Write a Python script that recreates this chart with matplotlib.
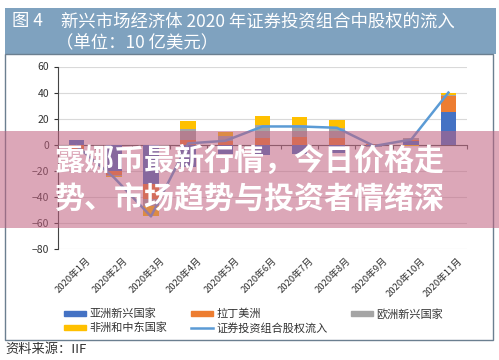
import matplotlib.pyplot as plt
import numpy as np
from matplotlib.patches import Rectangle
from matplotlib.lines import Line2D
from matplotlib.transforms import blended_transform_factory

plt.rcParams["font.family"] = ["Noto Sans CJK SC", "DejaVu Sans"]

months = ["2020年1月", "2020年2月", "2020年3月", "2020年4月", "2020年5月", "2020年6月",
          "2020年7月", "2020年8月", "2020年9月", "2020年10月", "2020年11月"]
asia = [4, -20, -30, -17, -7, -8, -7, -6, -1, 3, 25]
latam = [-3, -3, -12, 4, 3, 5, 6, 5, 0.5, 1, 12]
europe = [-1, -1, -5, 8, 4, 10, 9, 8, -0.5, 1, 1]
africa = [-1, -1, -8, 6, 3, 7, 6, 6, 0, -1, 2]
total = [-1, -25, -55, 1, 3, 14, 14, 13, -1, 4, 40]

series = [("亚洲新兴国家", asia, "#4472c4"),
          ("拉丁美洲", latam, "#ed7d31"),
          ("欧洲新兴国家", europe, "#a5a5a5"),
          ("非洲和中东国家", africa, "#ffc000")]
LINE_C = "#5b9bd5"

fig = plt.figure(figsize=(4.99, 3.60), dpi=100)
W, H = 499, 360


def px(x, y, w, h):
    return (x / W, 1 - (y + h) / H, w / W, h / H)


# header and chart frame
fig.patches.append(Rectangle((5 / W, 1 - 54 / H), 491 / W, 46 / H, transform=fig.transFigure,
                             facecolor="#7fa2bf", edgecolor="none"))
fig.patches.append(Rectangle((5 / W, 1 - 340 / H), 488 / W, 286 / H, transform=fig.transFigure,
                             facecolor="none", edgecolor="#6b7f90", linewidth=1.0))
fig.text(12 / W, 1 - 21 / H, "图 4", color="white", fontsize=12.5, va="center")
fig.text(61 / W, 1 - 21 / H, "新兴市场经济体 2020 年证券投资组合中股权的流入", color="white",
         fontsize=12.5, va="center")
fig.text(56 / W, 1 - 43 / H, "（单位：10 亿美元）", color="white", fontsize=12.5, va="center")
fig.text(5 / W, 1 - 349 / H, "资料来源：IIF", color="#333333", fontsize=9.5, va="center")

ax = fig.add_axes(px(58, 66.5, 409, 182.5))
x = np.arange(len(months))
pos = np.zeros(len(months))
neg = np.zeros(len(months))
for name, vals, c in series:
    v = np.array(vals, dtype=float)
    bottom = np.where(v >= 0, pos, neg)
    ax.bar(x, v, 0.42, bottom=bottom, color=c, zorder=3)
    pos = np.where(v >= 0, pos + v, pos)
    neg = np.where(v < 0, neg + v, neg)
ax.plot(x, total, color=LINE_C, linewidth=1.8, zorder=4)

ax.set_xlim(-0.5, len(months) - 0.5)
ax.set_ylim(-80, 60)
ax.set_yticks(np.arange(-80, 61, 20))
ax.set_yticklabels([str(v).replace("-", "−") for v in range(-80, 61, 20)])
ax.yaxis.grid(True, color="#d9d9d9", linewidth=0.8, zorder=0)
ax.tick_params(axis="y", labelsize=7.5, colors="#333333", length=3, width=0.8)
for s in ["top", "right"]:
    ax.spines[s].set_visible(False)
ax.spines["left"].set_color("#444444")
ax.spines["bottom"].set_position(("data", 0))
ax.spines["bottom"].set_color("#555555")
ax.set_xticks(np.arange(-0.5, len(months), 1))
ax.set_xticklabels([])
ax.tick_params(axis="x", length=3, color="#555555")

tr = blended_transform_factory(ax.transData, ax.transAxes)
for i, m in enumerate(months):
    ax.text(i + 0.25, -0.04, m, transform=tr, rotation=45, ha="right", va="top",
            fontsize=6.8, color="#333333", rotation_mode="anchor")

leg_handles = [Rectangle((0, 0), 1, 1, color=series[0][2]), Rectangle((0, 0), 1, 1, color=series[3][2]),
               Rectangle((0, 0), 1, 1, color=series[1][2]), Line2D([], [], color=LINE_C, linewidth=1.8),
               Rectangle((0, 0), 1, 1, color=series[2][2])]
leg_labels = ["亚洲新兴国家", "非洲和中东国家", "拉丁美洲", "证券投资组合股权流入", "欧洲新兴国家"]
fig.legend(leg_handles, leg_labels, ncol=3, loc="center left", bbox_to_anchor=(54 / W, 1 - 321 / H),
           frameon=False, fontsize=8, handlelength=2.0, handleheight=0.4, columnspacing=2.1,
           labelspacing=0.3, handletextpad=0.3, labelcolor="#333333")

# overlay banner
fig.patches.append(Rectangle((0, 1 - 228 / H), 1, 97 / H, transform=fig.transFigure,
                             facecolor="#c0607f", alpha=0.55, edgecolor="none", zorder=10))
fig.text(55 / W, 1 - 161 / H, "露娜币最新行情，今日价格走", color="white", fontsize=21.6,
         fontweight="bold", va="center", zorder=11)
fig.text(55 / W, 1 - 200 / H, "势、市场趋势与投资者情绪深", color="white", fontsize=21.6,
         fontweight="bold", va="center", zorder=11)

fig.savefig("out.png", dpi=100)
